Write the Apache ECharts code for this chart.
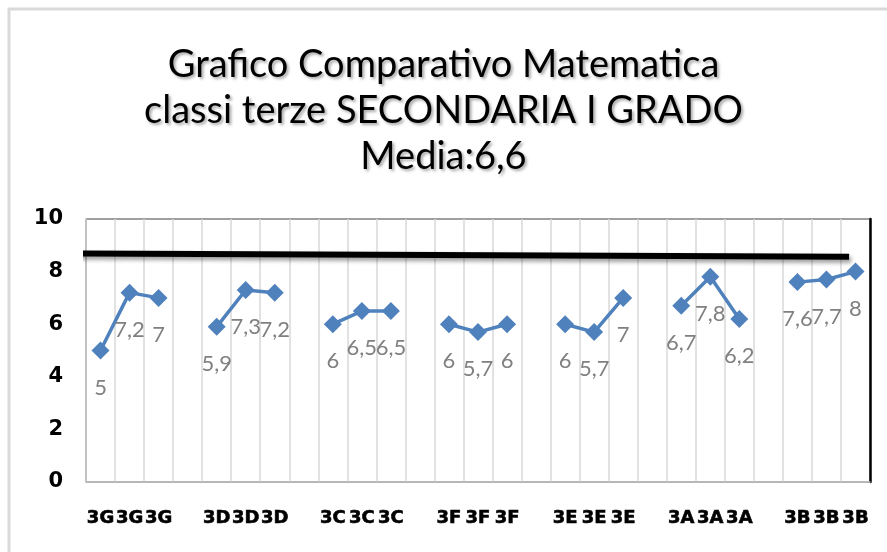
<!DOCTYPE html>
<html>
<head>
<meta charset="utf-8">
<script src="https://cdn.jsdelivr.net/npm/echarts@6/dist/echarts.min.js"></script>
<style>
  html, body { margin: 0; padding: 0; background: #fff; }
  #chart { width: 887px; height: 552px; }
</style>
</head>
<body>
<div id="chart"></div>
<script>
// Class codes along the x axis; blank entries separate the groups of three.
const classLabels = [
  '3G', '3G', '3G', '',
  '3D', '3D', '3D', '',
  '3C', '3C', '3C', '',
  '3F', '3F', '3F', '',
  '3E', '3E', '3E', '',
  '3A', '3A', '3A', '',
  '3B', '3B', '3B'
];

// Average mark for each class (null in the separator slots).
const scores = [
  5, 7.2, 7, null,
  5.9, 7.3, 7.2, null,
  6, 6.5, 6.5, null,
  6, 5.7, 6, null,
  6, 5.7, 7, null,
  6.7, 7.8, 6.2, null,
  7.6, 7.7, 8
];

const yTicks = [0, 2, 4, 6, 8, 10];

// Hand-drawn reference bar across the chart, in (slot, value) units.
const referenceBar = [[-0.38, 8.69], [26.28, 8.56]];

const titleLines = [
  'Grafico Comparativo Matematica',
  'classi terze SECONDARIA I GRADO',
  'Media:6,6'
];

const humanist = "Lato, 'Open Sans', sans-serif";

const chart = echarts.init(document.getElementById('chart'), null, { renderer: 'canvas' });

chart.setOption({
  animation: false,
  backgroundColor: '#ffffff',
  title: {
    text: titleLines.join('\n'),
    left: 'center',
    top: 37,
    textStyle: {
      fontFamily: humanist,
      fontSize: 38,
      fontWeight: 'normal',
      lineHeight: 46,
      color: '#000',
      textShadowColor: 'rgba(0,0,0,0.35)',
      textShadowBlur: 3,
      textShadowOffsetX: 2,
      textShadowOffsetY: 2
    }
  },
  graphic: [{
    type: 'rect',
    shape: { x: 9, y: 9, width: 900, height: 600 },
    style: { fill: 'none', stroke: '#d9d9d9', lineWidth: 3 },
    silent: true
  }],
  grid: {
    left: 86, right: 17, top: 219, bottom: 70,
    show: true,
    borderColor: '#404040',
    borderWidth: 1
  },
  xAxis: [{
    type: 'category',
    data: classLabels,
    boundaryGap: true,
    axisLine: { show: true, lineStyle: { color: '#bfbfbf', width: 1.5 } },
    axisTick: { show: false },
    splitLine: { show: true, interval: 0, lineStyle: { color: '#d9d9d9', width: 1.5 } },
    axisLabel: {
      interval: 0,
      margin: 27,
      fontFamily: "'DejaVu Sans', sans-serif",
      fontWeight: 'bold',
      fontSize: 18,
      color: '#000',
      textBorderColor: '#000',
      textBorderWidth: 0.6
    }
  }, {
    type: 'value',
    min: 0,
    max: 27,
    show: false
  }],
  yAxis: [{
    type: 'value',
    min: yTicks[0],
    max: yTicks[yTicks.length - 1],
    interval: 2,
    axisLine: { show: true, lineStyle: { color: '#bfbfbf', width: 1.5 } },
    axisTick: { show: false },
    splitLine: { show: false },
    axisLabel: {
      margin: 23,
      fontFamily: "'DejaVu Sans', sans-serif",
      fontWeight: 'bold',
      fontSize: 21,
      color: '#000'
    }
  }, {
    type: 'value',
    position: 'right',
    min: yTicks[0],
    max: yTicks[yTicks.length - 1],
    interval: 2,
    axisLine: { show: true, lineStyle: { color: '#000', width: 2.5 } },
    axisTick: { show: false },
    axisLabel: { show: false },
    splitLine: { show: false }
  }],
  series: [{
    type: 'line',
    xAxisIndex: 1,
    yAxisIndex: 0,
    data: referenceBar,
    clip: false,
    symbol: 'none',
    silent: true,
    z: 1,
    lineStyle: {
      color: '#000',
      width: 6,
      shadowColor: 'rgba(0,0,0,0.4)',
      shadowBlur: 4,
      shadowOffsetX: 2,
      shadowOffsetY: 3
    }
  }, {
    type: 'line',
    xAxisIndex: 0,
    yAxisIndex: 0,
    data: scores,
    connectNulls: false,
    symbol: 'diamond',
    symbolSize: 18,
    z: 3,
    itemStyle: { color: '#4f81bd' },
    lineStyle: { color: '#4f81bd', width: 3.5 },
    label: {
      show: true,
      position: 'bottom',
      distance: 17,
      fontFamily: humanist,
      fontSize: 22,
      color: '#808080',
      formatter: p => String(p.value).replace('.', ',')
    }
  }]
});
</script>
</body>
</html>
